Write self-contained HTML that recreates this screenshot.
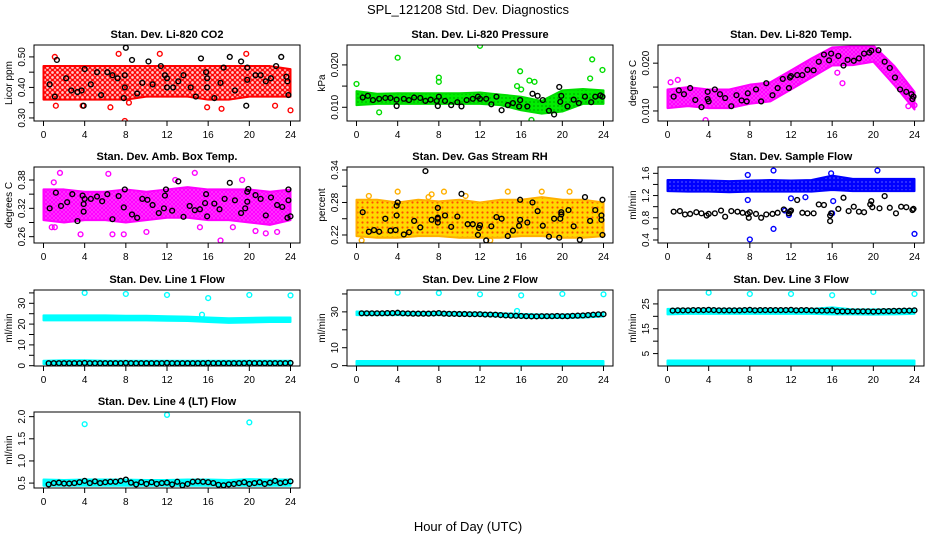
<!DOCTYPE html>
<html><head><meta charset="utf-8">
<style>
html,body{margin:0;padding:0;background:#fff;}
svg{display:block;font-family:"Liberation Sans",Arial,sans-serif;}
</style></head>
<body>
<svg id="chart" width="936" height="540" viewBox="0 0 936 540">
<defs>
<pattern id="pat-red" width="5" height="5" patternUnits="userSpaceOnUse"><rect width="5" height="5" fill="#ff0000" opacity="0.2"/><circle cx="2.5" cy="2.5" r="2" fill="none" stroke="#ff0000" stroke-width="1.3"/></pattern>
<pattern id="pat-green" width="4" height="4" patternUnits="userSpaceOnUse"><rect width="4" height="4" fill="#00ee00"/><circle cx="2" cy="2" r="0.6" fill="#006600"/></pattern>
<pattern id="pat-magenta" width="4" height="4" patternUnits="userSpaceOnUse"><rect width="4" height="4" fill="#ff00ff" opacity="0.7"/><circle cx="2" cy="2" r="1.5" fill="none" stroke="#ff00ff" stroke-width="1.2"/></pattern>
<pattern id="pat-orange" width="5" height="5" patternUnits="userSpaceOnUse"><rect width="5" height="5" fill="#ffd800"/><circle cx="2.5" cy="2.5" r="1.1" fill="#ff5000"/></pattern>
<pattern id="pat-blue" width="4" height="4" patternUnits="userSpaceOnUse"><rect width="4" height="4" fill="#0000ff"/><circle cx="2" cy="2" r="0.6" fill="#ffffff" opacity="0.6"/></pattern>
<pattern id="pat-cyan" width="4" height="4" patternUnits="userSpaceOnUse"><rect width="4" height="4" fill="#00ffff"/></pattern>
</defs>
<text x="468" y="14" font-size="13" text-anchor="middle">SPL_121208  Std. Dev. Diagnostics</text>
<text x="468" y="531" font-size="13" text-anchor="middle">Hour of Day (UTC)</text>
</svg>
<script>
// ---- shared data ----
const BAND_HOURS = [0,2,4,6,8,10,12,14,16,18,20,22,24];
const XTICKS = [0,4,8,12,16,20,24];
const FLOW_HOURS = [0.5,1,1.5,2,2.5,3,3.5,4,4.5,5,5.5,6,6.5,7,7.5,8,8.5,9,9.5,10,10.5,11,11.5,12,12.5,13,13.5,14,14.5,15,15.5,16,16.5,17,17.5,18,18.5,19,19.5,20,20.5,21,21.5,22,22.5,23,23.5,24];

// ---- CO2 ----
const co2Lo = [0.36,0.36,0.36,0.36,0.36,0.37,0.37,0.37,0.36,0.36,0.37,0.37,0.37];
const co2Hi = [0.47,0.47,0.47,0.47,0.47,0.47,0.47,0.47,0.47,0.47,0.47,0.47,0.46];
const co2OutX = [1.1,1.2,3.8,6.5,7.9,8.3,11.3,17.3,15.9,19.7,22.5,24,7.3];
const co2OutY = [0.50,0.34,0.34,0.335,0.29,0.35,0.51,0.33,0.335,0.51,0.34,0.325,0.51];
const co2BlkX = [0.6,1.1,1.3,2.2,2.7,3.3,3.7,3.9,4,4.6,5.2,5.6,6.2,6.7,7.2,7.8,7.9,7.9,8.0,8.6,9.1,9.6,10.2,10.6,11.4,11.8,12,12,12.6,13.1,13.6,14.3,14.8,15.3,15.8,15.9,15.9,16.6,17.2,17.5,18.1,18.6,19.2,19.7,19.8,19.8,20.6,21.1,21.6,22.1,22.6,23.1,23.6,23.7,23.8];
const co2BlkY = [0.41,0.37,0.49,0.43,0.39,0.385,0.39,0.34,0.46,0.41,0.45,0.375,0.45,0.44,0.43,0.365,0.40,0.44,0.53,0.49,0.38,0.415,0.485,0.41,0.47,0.44,0.43,0.40,0.40,0.42,0.44,0.40,0.37,0.495,0.45,0.43,0.40,0.365,0.415,0.465,0.50,0.39,0.485,0.34,0.425,0.465,0.44,0.44,0.42,0.43,0.47,0.50,0.435,0.42,0.375];

// ---- Pressure ----
const presLo = [0.0105,0.0108,0.0108,0.0108,0.0108,0.0108,0.0108,0.0105,0.0093,0.0085,0.0090,0.0108,0.0108];
const presHi = [0.0138,0.0132,0.0133,0.0133,0.0133,0.0133,0.0135,0.0130,0.0125,0.0115,0.0140,0.0143,0.0140];
const presOutX = [0,4,8,8,12,15.6,15.9,16,16.8,17.3,17,22.7,22.9,23.9,2.2];
const presOutY = [0.0155,0.0217,0.0170,0.0160,0.0245,0.0150,0.0185,0.0142,0.0163,0.0160,0.0070,0.0168,0.0213,0.0188,0.0088];
const presBlkX = [0.6,1.1,1.6,2.2,2.8,3.3,3.9,3.9,4.6,5.1,5.6,6.2,6.7,7.2,7.8,7.9,8,8.6,9.2,9.8,10.2,10.7,11.3,11.8,12,12.6,13.1,13.6,14.1,14.7,15.2,15.8,15.9,16.6,17.1,17.6,18.1,18.7,19.2,19.7,19.8,19.9,20.5,21.1,21.6,22.2,22.8,23.2,23.7,23.9];
const presBlkY = [0.0123,0.0127,0.0117,0.0120,0.0122,0.0122,0.0118,0.0103,0.0120,0.0117,0.0123,0.0122,0.0115,0.0118,0.0115,0.0103,0.0125,0.0115,0.0105,0.0112,0.0102,0.0117,0.0120,0.0125,0.0120,0.0120,0.0107,0.0125,0.0093,0.0105,0.0110,0.0102,0.0117,0.0102,0.0132,0.0127,0.0117,0.0092,0.0083,0.0148,0.0113,0.0127,0.0102,0.0118,0.0110,0.0125,0.0112,0.0125,0.0128,0.0125];

// ---- Li-820 Temp ----
const tempLo = [0.0106,0.0110,0.0106,0.0106,0.0115,0.0120,0.0145,0.0170,0.0195,0.0196,0.0203,0.0155,0.0103];
const tempHi = [0.0145,0.0150,0.0145,0.0145,0.0155,0.0160,0.0185,0.0210,0.0233,0.0235,0.0237,0.0195,0.0140];
const tempOutX = [3.7,17,23.4,24,16.5,0.3,1.0];
const tempOutY = [0.0081,0.0158,0.0110,0.0112,0.0180,0.0160,0.0165];
const tempBlkX = [0.6,1.1,1.6,2.2,2.7,3.3,3.9,3.9,4.0,4.6,5.1,5.6,6.2,6.7,7.2,7.7,7.8,8.6,9.1,9.6,10.2,10.7,11.2,11.8,11.9,12,12.6,13.1,13.6,14.2,14.7,15.2,15.7,15.9,16.6,17.1,17.5,18.1,18.6,19.1,19.6,19.8,20.5,21.1,21.6,22.1,22.6,23.2,23.7,23.8,23.9];
const tempBlkY = [0.0130,0.0143,0.0135,0.0148,0.0123,0.0108,0.0140,0.0125,0.0120,0.0145,0.0135,0.0127,0.0110,0.0133,0.0122,0.0120,0.0137,0.0145,0.0120,0.0158,0.0133,0.0148,0.0167,0.0148,0.0170,0.0173,0.0175,0.0175,0.0186,0.0185,0.0203,0.0218,0.0206,0.0220,0.0215,0.0195,0.0207,0.0205,0.0210,0.0220,0.0222,0.0226,0.0227,0.0203,0.0190,0.0170,0.0145,0.0140,0.0135,0.0125,0.0130];

// ---- Amb Box Temp ----
const ambLo = [0.295,0.29,0.295,0.295,0.29,0.295,0.30,0.30,0.295,0.295,0.29,0.285,0.295];
const ambHi = [0.36,0.36,0.355,0.355,0.36,0.355,0.36,0.365,0.36,0.36,0.36,0.355,0.36];
const ambOutX = [1.0,1.6,3.6,6.3,6.7,7.8,10.0,12.8,14.7,17.2,19.3,18.4,20.6,21.6,22.7,0.8,1.1,15.2];
const ambOutY = [0.375,0.395,0.265,0.393,0.265,0.265,0.270,0.380,0.395,0.252,0.380,0.280,0.272,0.267,0.270,0.280,0.280,0.280];
const ambBlkX = [0.6,1.2,1.7,2.3,2.8,3.3,3.8,3.9,3.9,4.0,4.6,5.2,5.7,6.2,6.7,7.3,7.8,7.9,8.6,9.1,9.6,10.1,10.6,11.2,11.7,11.8,11.9,12.5,13.1,13.6,14.2,14.7,15.2,15.7,15.8,15.9,16.6,17.1,17.6,18.1,18.6,19.2,19.6,19.8,19.8,19.9,20.6,21.1,21.6,22.1,22.7,23.2,23.7,23.8,23.8,24];
const ambBlkY = [0.320,0.353,0.325,0.333,0.350,0.293,0.347,0.329,0.313,0.340,0.340,0.345,0.335,0.350,0.297,0.346,0.322,0.360,0.307,0.300,0.340,0.338,0.327,0.310,0.320,0.347,0.360,0.315,0.377,0.302,0.325,0.316,0.318,0.331,0.350,0.303,0.330,0.318,0.340,0.374,0.337,0.310,0.320,0.334,0.355,0.361,0.348,0.340,0.305,0.343,0.327,0.323,0.300,0.337,0.360,0.303];

// ---- Gas Stream RH ----
const rhLo = [0.218,0.215,0.215,0.218,0.218,0.215,0.215,0.215,0.218,0.218,0.215,0.215,0.218];
const rhHi = [0.285,0.285,0.280,0.285,0.282,0.285,0.280,0.285,0.285,0.290,0.285,0.285,0.280];
const rhOutX = [4,7,7.3,8.5,14.7,18,20.7,0.5,13,1.2,10.6];
const rhOutY = [0.300,0.290,0.295,0.300,0.300,0.300,0.300,0.210,0.210,0.292,0.292];
const rhBlkX = [0.6,1.2,1.7,2.2,2.8,3.3,3.8,3.9,3.9,4,4.6,5.1,5.6,6.2,6.7,7.3,7.9,7.9,7.9,7.9,8.6,9.2,9.8,10.2,10.8,11.3,11.8,11.9,12,12.6,13.1,13.6,14.1,14.7,15.2,15.8,15.9,15.9,16.6,17.1,17.6,18.1,18.7,19.2,19.7,19.8,19.9,19.9,20.6,21.1,21.7,22.2,22.7,23.2,23.8,23.8,23.9,23.9];
const rhBlkY = [0.262,0.226,0.229,0.226,0.250,0.228,0.229,0.256,0.274,0.280,0.221,0.225,0.246,0.234,0.338,0.248,0.243,0.250,0.252,0.270,0.256,0.235,0.254,0.296,0.240,0.240,0.220,0.233,0.238,0.210,0.236,0.253,0.250,0.218,0.228,0.237,0.248,0.285,0.243,0.280,0.264,0.237,0.217,0.250,0.215,0.250,0.258,0.262,0.266,0.236,0.211,0.290,0.246,0.266,0.248,0.256,0.285,0.220];

// ---- Sample Flow ----
const sfLo = [1.28,1.27,1.27,1.26,1.27,1.27,1.27,1.27,1.30,1.28,1.28,1.28,1.28];
const sfHi = [1.48,1.48,1.47,1.46,1.47,1.48,1.47,1.48,1.56,1.50,1.50,1.50,1.50];
const sfOutX = [7.8,7.8,10.3,12,10.3,11.4,8,16,16.1,20.4,24,15.9,13.4,11.8];
const sfOutY = [1.57,1.12,1.65,1.15,0.60,0.93,0.41,0.88,1.10,1.65,0.51,1.60,1.17,0.85];
const sfBlkX = [0.6,1.2,1.7,2.2,2.8,3.3,3.8,4,4.6,5.2,5.6,6.2,6.8,7.3,7.8,7.9,8,8.6,9.1,9.6,10.2,10.7,11.3,11.8,11.9,12,12.6,13.1,13.6,14.2,14.7,15.2,15.8,15.8,15.9,16.6,17.1,17.6,18.1,18.6,19.1,19.7,19.8,19.9,20.6,21.1,21.6,22.2,22.7,23.2,23.8,23.9];
const sfBlkY = [0.91,0.92,0.86,0.87,0.90,0.88,0.84,0.87,0.88,0.93,0.82,0.92,0.91,0.89,0.87,0.80,0.90,0.87,0.80,0.86,0.87,0.89,0.95,0.88,0.91,0.93,1.12,0.89,0.88,0.88,1.04,1.03,0.84,0.74,0.88,0.96,1.16,0.92,1.00,0.91,0.90,1.04,1.10,0.99,0.97,1.19,0.98,0.88,1.00,0.99,0.94,0.96];

// ---- Line 1 Flow ----
const l1Lo = [21.8,21.8,21.8,21.8,21.8,21.8,21.6,21.5,21.0,20.6,20.8,21.0,21.0];
const l1Hi = [24.2,24.2,24.2,24.2,24.0,24.0,23.8,23.6,23.2,22.8,23.0,23.2,23.2];
const l1LowLo = [0.8,0.8,0.8,0.8,0.8,0.8,0.8,0.8,0.8,0.8,0.8,0.8,0.8];
const l1LowHi = [2.4,2.6,2.6,2.4,2.4,2.4,2.4,2.4,2.4,2.4,2.4,2.4,2.4];
const l1OutX = [4,8,12,16,20,24,15.4];
const l1OutY = [35.0,34.5,34.0,32.5,34.0,33.8,24.5];
const l1BlkY = [1.2,1.2,1.2,1.2,1.2,1.2,1.2,1.3,1.2,1.2,1.2,1.2,1.2,1.2,1.2,1.3,1.2,1.2,1.2,1.2,1.2,1.2,1.2,1.3,1.2,1.2,1.2,1.2,1.2,1.2,1.2,1.3,1.2,1.2,1.2,1.2,1.2,1.2,1.2,1.3,1.2,1.2,1.2,1.2,1.2,1.2,1.2,1.3];

// ---- Line 2 Flow ----
const l2Lo = [28.2,28.2,28.2,28.2,28.2,28.0,27.8,27.4,26.8,26.6,26.6,26.8,27.4];
const l2Hi = [30.2,29.9,29.9,29.9,29.9,29.7,29.5,29.2,28.8,28.5,28.5,28.8,29.3];
const l2LowLo = [0.4,0.4,0.4,0.4,0.4,0.4,0.4,0.4,0.4,0.4,0.4,0.4,0.4];
const l2LowHi = [2.6,2.6,2.6,2.6,2.6,2.6,2.6,2.6,2.6,2.6,2.6,2.6,2.6];
const l2OutX = [4,8,12,16,20,24,15.6];
const l2OutY = [40.7,40.5,39.8,39.2,40.0,39.8,30.5];
const l2BlkY = [29.2,29.2,29.2,29.2,29.2,29.3,29.3,29.5,29.2,29.1,29.0,29.0,29.0,29.0,29.1,29.3,29.0,28.9,28.9,28.8,28.8,28.7,28.7,28.7,28.5,28.5,28.4,28.2,28.0,27.9,27.8,27.7,27.6,27.5,27.5,27.6,27.6,27.6,27.7,27.6,27.6,27.8,27.9,28.0,28.2,28.4,28.6,28.7];

// ---- Line 3 Flow ----
const l3Lo = [20.8,21.0,21.0,21.0,21.0,21.0,21.0,21.0,20.8,20.8,20.7,20.8,21.0];
const l3Hi = [23.0,23.0,23.0,23.0,23.0,23.0,23.0,23.0,23.6,22.8,22.8,22.8,23.0];
const l3LowLo = [0.6,0.6,0.6,0.6,0.6,0.6,0.6,0.6,0.6,0.6,0.6,0.6,0.6];
const l3LowHi = [2.2,2.2,2.2,2.2,2.2,2.2,2.2,2.2,2.2,2.2,2.2,2.2,2.2];
const l3OutX = [4,8,12,16,20,24];
const l3OutY = [29.5,29.0,29.0,28.5,29.8,29.0];
const l3BlkY = [22.3,22.4,22.4,22.4,22.5,22.5,22.5,22.6,22.5,22.4,22.4,22.4,22.4,22.4,22.5,22.6,22.4,22.5,22.5,22.5,22.5,22.5,22.5,22.6,22.4,22.5,22.5,22.4,22.3,22.3,22.3,22.4,22.0,22.0,22.0,22.0,22.0,22.0,22.0,21.9,22.0,22.1,22.1,22.2,22.2,22.3,22.3,22.4];

// ---- Line 4 (LT) Flow ----
const l4Lo = [0.44,0.44,0.44,0.44,0.44,0.44,0.44,0.44,0.44,0.44,0.44,0.44,0.44];
const l4Hi = [0.58,0.57,0.58,0.58,0.58,0.57,0.57,0.58,0.58,0.57,0.59,0.58,0.58];
const l4OutX = [4,12,20];
const l4OutY = [1.83,2.04,1.87];
const l4BlkY = [0.47,0.50,0.51,0.49,0.49,0.50,0.52,0.55,0.50,0.54,0.50,0.52,0.53,0.53,0.55,0.58,0.51,0.47,0.52,0.48,0.52,0.48,0.50,0.51,0.47,0.53,0.45,0.48,0.53,0.54,0.53,0.52,0.50,0.46,0.45,0.47,0.48,0.50,0.52,0.48,0.50,0.52,0.48,0.51,0.55,0.50,0.52,0.54];

// ---- layout (not data) ----
const colL = [34,347,658], colW = 266;
const rowT = [45,167,290,412], rowH = 76;
const NS = 'http://www.w3.org/2000/svg';
const svg = document.getElementById('chart');
function mk(tag, attrs, parent){const e=document.createElementNS(NS,tag);for(const k in attrs)e.setAttribute(k,attrs[k]);(parent||svg).appendChild(e);return e;}

const panels = [
 {slug:'co2',title:'Stan. Dev. Li-820 CO2',yl:'Licor ppm',c:0,r:0,ymin:0.29,ymax:0.539,ticks:[0.30,0.35,0.40,0.45,0.50],labels:['0.30','','0.40','','0.50'],color:'#ff0000',pat:'pat-red',
  bands:[[co2Lo,co2Hi]],ox:co2OutX,oy:co2OutY,bx:co2BlkX,by:co2BlkY},
 {slug:'pressure',title:'Stan. Dev. Li-820 Pressure',yl:'kPa',c:1,r:0,ymin:0.00676,ymax:0.0247,ticks:[0.010,0.015,0.020],labels:['0.010','','0.020'],color:'#00dd00',pat:'pat-green',
  bands:[[presLo,presHi]],ox:presOutX,oy:presOutY,bx:presBlkX,by:presBlkY},
 {slug:'li820-temp',title:'Stan. Dev. Li-820 Temp.',yl:'degrees C',c:2,r:0,ymin:0.0079,ymax:0.0238,ticks:[0.010,0.015,0.020],labels:['0.010','','0.020'],color:'#ff00ff',pat:'pat-magenta',
  bands:[[tempLo,tempHi]],ox:tempOutX,oy:tempOutY,bx:tempBlkX,by:tempBlkY},
 {slug:'amb-box-temp',title:'Stan. Dev. Amb. Box Temp.',yl:'degrees C',c:0,r:1,ymin:0.2466,ymax:0.4075,ticks:[0.26,0.29,0.32,0.35,0.38],labels:['0.26','','0.32','','0.38'],color:'#ff00ff',pat:'pat-magenta',
  bands:[[ambLo,ambHi]],ox:ambOutX,oy:ambOutY,bx:ambBlkX,by:ambBlkY},
 {slug:'gas-stream-rh',title:'Stan. Dev. Gas Stream RH',yl:'percent',c:1,r:1,ymin:0.2052,ymax:0.3455,ticks:[0.22,0.25,0.28,0.31,0.34],labels:['0.22','','0.28','','0.34'],color:'#ffb000',pat:'pat-orange',
  bands:[[rhLo,rhHi]],ox:rhOutX,oy:rhOutY,bx:rhBlkX,by:rhBlkY},
 {slug:'sample-flow',title:'Stan. Dev. Sample Flow',yl:'ml/min',c:2,r:1,ymin:0.346,ymax:1.714,ticks:[0.4,0.6,0.8,1.0,1.2,1.4,1.6],labels:['0.4','','0.8','','1.2','','1.6'],color:'#0000ff',pat:'pat-blue',
  bands:[[sfLo,sfHi]],ox:sfOutX,oy:sfOutY,bx:sfBlkX,by:sfBlkY},
 {slug:'line1-flow',title:'Stan. Dev. Line 1 Flow',yl:'ml/min',c:0,r:2,ymin:-0.15,ymax:36.4,ticks:[0,5,10,15,20,25,30,35],labels:['0','','10','','20','','30',''],color:'#00ffff',pat:'pat-cyan',
  bands:[[l1Lo,l1Hi],[l1LowLo,l1LowHi]],ox:l1OutX,oy:l1OutY,bx:FLOW_HOURS,by:l1BlkY},
 {slug:'line2-flow',title:'Stan. Dev. Line 2 Flow',yl:'ml/min',c:1,r:2,ymin:-0.2,ymax:42.2,ticks:[0,10,20,30,40],labels:['0','10','','30',''],color:'#00ffff',pat:'pat-cyan',
  bands:[[l2Lo,l2Hi],[l2LowLo,l2LowHi]],ox:l2OutX,oy:l2OutY,bx:FLOW_HOURS,by:l2BlkY},
 {slug:'line3-flow',title:'Stan. Dev. Line 3 Flow',yl:'ml/min',c:2,r:2,ymin:0,ymax:30.6,ticks:[5,10,15,20,25],labels:['5','','15','','25'],color:'#00ffff',pat:'pat-cyan',
  bands:[[l3Lo,l3Hi],[l3LowLo,l3LowHi]],ox:l3OutX,oy:l3OutY,bx:FLOW_HOURS,by:l3BlkY},
 {slug:'line4-flow',title:'Stan. Dev. Line 4 (LT) Flow',yl:'ml/min',c:0,r:3,ymin:0.389,ymax:2.105,ticks:[0.5,1.0,1.5,2.0],labels:['0.5','1.0','1.5','2.0'],color:'#00ffff',pat:'pat-cyan',
  bands:[[l4Lo,l4Hi]],ox:l4OutX,oy:l4OutY,bx:FLOW_HOURS,by:l4BlkY}
];

panels.forEach(p=>{
  const L=colL[p.c], T=rowT[p.r], R=L+colW, B=T+rowH;
  const xs=h=>L+9.5+h*(colW-19)/24;
  const ys=v=>B-(v-p.ymin)/(p.ymax-p.ymin)*rowH;
  const g=mk('g',{});
  
  
  const clip=mk('clipPath',{id:'clip-'+p.slug},g);
  mk('rect',{x:L,y:T,width:colW,height:rowH},clip);
  const t=mk('text',{x:(L+R)/2,y:T-7,'font-size':11,'font-weight':'bold','text-anchor':'middle'},g);
  t.textContent=p.title;
  
  
  const yl=mk('text',{x:0,y:0,'font-size':10,'text-anchor':'middle',transform:`translate(${L-22},${(T+B)/2}) rotate(-90)`},g);
  yl.textContent=p.yl;
  
  
  const plot=mk('g',{'clip-path':`url(#clip-${p.slug})`},g);
  p.bands.forEach((bd,bi)=>{
    const lo=bd[0], hi=bd[1];
    let pts=BAND_HOURS.map((h,i)=>xs(h)+','+ys(hi[i]));
    pts=pts.concat(BAND_HOURS.map((h,i)=>xs(h)+','+ys(lo[i])).reverse());
    const poly=mk('polygon',{points:pts.join(' '),fill:`url(#${p.pat})`,stroke:p.color,'stroke-width':2,'stroke-linejoin':'round'},plot);
    
    
  });
  p.ox.forEach((h,i)=>{
    const c=mk('circle',{cx:xs(h),cy:ys(p.oy[i]),r:2.4,fill:'none',stroke:p.color,'stroke-width':1.4},plot);
    
    
  });
  p.bx.forEach((h,i)=>{
    const c=mk('circle',{cx:xs(h),cy:ys(p.by[i]),r:2.4,fill:'none',stroke:'#000','stroke-width':1.4},plot);
    
    
  });
  const box=mk('rect',{x:L,y:T,width:colW,height:rowH,fill:'none',stroke:'#000','stroke-width':1},g);
  
  
  XTICKS.forEach(h=>{
    mk('line',{x1:xs(h),x2:xs(h),y1:B,y2:B+5,stroke:'#000'},g);
    const tl=mk('text',{x:xs(h),y:B+17,'font-size':10,'text-anchor':'middle'},g);
    tl.textContent=h;
    
    
  });
  p.ticks.forEach((v,i)=>{
    mk('line',{x1:L-5,x2:L,y1:ys(v),y2:ys(v),stroke:'#000'},g);
    if(p.labels[i]){
      const tl=mk('text',{x:0,y:0,'font-size':10,'text-anchor':'middle',transform:`translate(${L-9},${ys(v)}) rotate(-90)`},g);
      tl.textContent=p.labels[i];
      
      
    }
  });
});
</script>
</body></html>
